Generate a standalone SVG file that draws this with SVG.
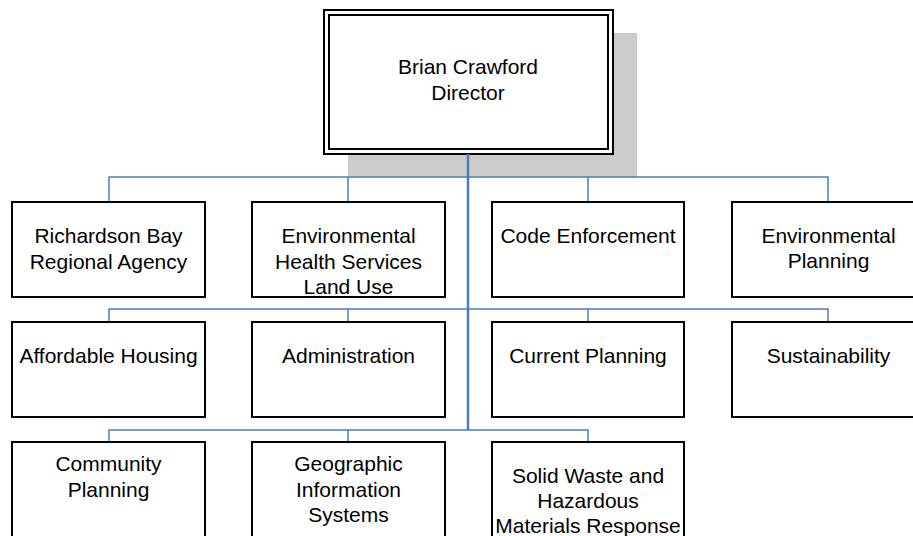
<svg xmlns="http://www.w3.org/2000/svg" width="913" height="536" viewBox="0 0 913 536">
<style>
.box{fill:#fff;stroke:#000;stroke-width:2}
.t{font-family:"Liberation Sans",Arial,sans-serif;font-size:21px;fill:#000;text-anchor:middle}
.c{fill:none;stroke:#4a7ebb;stroke-width:1.5}
.trunk{fill:none;stroke:#4a7ebb;stroke-width:2.5}
</style>
<rect x="0" y="0" width="913" height="536" fill="#fff"/>
<g id="director">
<rect x="348" y="33" width="289" height="144" fill="#cccccc"/>
<rect x="324" y="10" width="289" height="144" fill="#fff" stroke="#000" stroke-width="2"/>
<rect x="329" y="15" width="279" height="134" fill="none" stroke="#000" stroke-width="2"/>
<text class="t" x="468" y="74">Brian Crawford</text>
<text class="t" x="468" y="100">Director</text>
</g>
<g id="connectors">
<path class="trunk" d="M468,154 V430"/>
<path class="c" d="M109,202 V177 H828 V202 M348,177 V202 M588,177 V202"/>
<path class="c" d="M109,322 V309 H828 V322 M348,309 V322 M588,309 V322"/>
<path class="c" d="M109,442 V430 H588 V442 M348,430 V442"/>
</g>
<g id="richardson">
<rect class="box" x="12" y="202" width="193" height="95"/>
<text class="t" x="108.5" y="243">Richardson Bay</text>
<text class="t" x="108.5" y="269">Regional Agency</text>
</g>
<g id="envhealth">
<rect class="box" x="252" y="202" width="193" height="95"/>
<text class="t" x="348.5" y="243">Environmental</text>
<text class="t" x="348.5" y="269">Health Services</text>
<text class="t" x="348.5" y="294">Land Use</text>
</g>
<g id="code">
<rect class="box" x="492" y="202" width="192" height="95"/>
<text class="t" x="588" y="243">Code Enforcement</text>
</g>
<g id="envplanning">
<rect class="box" x="732" y="202" width="193" height="95"/>
<text class="t" x="828.5" y="243">Environmental</text>
<text class="t" x="828.5" y="268">Planning</text>
</g>
<g id="affordable">
<rect class="box" x="12" y="322" width="193" height="95"/>
<text class="t" x="108.5" y="363">Affordable Housing</text>
</g>
<g id="administration">
<rect class="box" x="252" y="322" width="193" height="95"/>
<text class="t" x="348.5" y="363">Administration</text>
</g>
<g id="current">
<rect class="box" x="492" y="322" width="192" height="95"/>
<text class="t" x="588" y="363">Current Planning</text>
</g>
<g id="sustainability">
<rect class="box" x="732" y="322" width="193" height="95"/>
<text class="t" x="828.5" y="363">Sustainability</text>
</g>
<g id="community">
<rect class="box" x="12" y="442" width="193" height="100"/>
<text class="t" x="108.5" y="471">Community</text>
<text class="t" x="108.5" y="497">Planning</text>
</g>
<g id="gis">
<rect class="box" x="252" y="442" width="193" height="100"/>
<text class="t" x="348.5" y="471">Geographic</text>
<text class="t" x="348.5" y="497">Information</text>
<text class="t" x="348.5" y="522">Systems</text>
</g>
<g id="solidwaste">
<rect class="box" x="492" y="442" width="192" height="100"/>
<text class="t" x="588" y="483">Solid Waste and</text>
<text class="t" x="588" y="508">Hazardous</text>
<text class="t" x="588" y="533">Materials Response</text>
</g>
</svg>
